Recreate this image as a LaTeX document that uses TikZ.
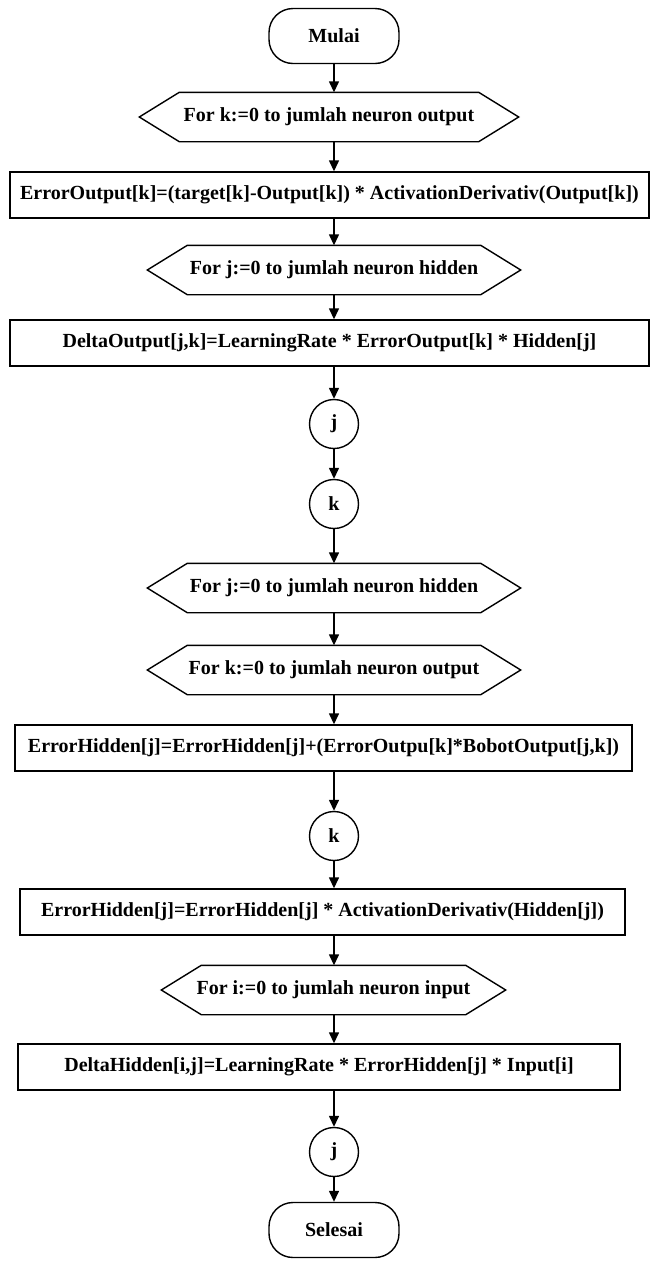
\documentclass[tikz,border=0pt]{standalone}
\usepackage{fontspec}
\setmainfont{Liberation Serif}
\usetikzlibrary{arrows.meta}

\tikzset{
  base/.style={font=\bfseries\fontsize{20}{23}\selectfont, line width=1.4pt, inner sep=0pt},
  terminal/.style={base, draw, rounded corners=24pt, minimum width=130pt, minimum height=55pt},
  procbox/.style={base, draw, minimum height=46pt},
  loophex/.style={base, minimum height=48pt},
  connector/.style={base, draw, circle, minimum size=49pt},
  flow/.style={line width=1.4pt, -{Triangle[length=11pt,width=10pt]}}
}

% hexagonal frame drawn around a loop node
\newcommand\hexframe[1]{%
  \draw[line width=1.4pt] (#1.west) -- ([xshift=40pt]#1.north west)
    -- ([xshift=-40pt]#1.north east) -- (#1.east)
    -- ([xshift=-40pt]#1.south east) -- ([xshift=40pt]#1.south west) -- cycle;}

\begin{document}
\begin{tikzpicture}[x=1pt,y=-1pt]
\useasboundingbox (0,0) rectangle (651,1262);
\coordinate (axis) at (334,0);

\node[terminal] (start) at (334,36) {Mulai};
\node[loophex, minimum width=378pt] (fork1) at (329,117) {For k:=0 to jumlah neuron output};
\node[procbox, minimum width=639pt] (errout) at (329.5,195) {ErrorOutput[k]=(target[k]-Output[k]) * ActivationDerivativ(Output[k])};
\node[loophex, minimum width=372pt] (forj1) at (334,270) {For j:=0 to jumlah neuron hidden};
\node[procbox, minimum width=639pt] (deltaout) at (329.5,343) {DeltaOutput[j,k]=LearningRate * ErrorOutput[k] * Hidden[j]};
\node[connector] (endj1) at (334,424) {j};
\node[connector] (endk1) at (334,504) {k};
\node[loophex, minimum width=372pt] (forj2) at (334,588) {For j:=0 to jumlah neuron hidden};
\node[loophex, minimum width=372pt] (fork2) at (334,670) {For k:=0 to jumlah neuron output};
\node[procbox, minimum width=617pt] (errhid) at (323.5,748) {ErrorHidden[j]=ErrorHidden[j]+(ErrorOutpu[k]*BobotOutput[j,k])};
\node[connector] (endk2) at (334,836) {k};
\node[procbox, minimum width=605pt] (errhidact) at (322.5,912) {ErrorHidden[j]=ErrorHidden[j] * ActivationDerivativ(Hidden[j])};
\node[loophex, minimum width=343pt] (fori) at (333.5,990) {For i:=0 to jumlah neuron input};
\node[procbox, minimum width=602pt] (deltahid) at (319,1067) {DeltaHidden[i,j]=LearningRate * ErrorHidden[j] * Input[i]};
\node[connector] (endj2) at (334,1152) {j};
\node[terminal] (stop) at (334,1230) {Selesai};

\hexframe{fork1}
\hexframe{forj1}
\hexframe{forj2}
\hexframe{fork2}
\hexframe{fori}

\foreach \a/\b in {start/fork1, fork1/errout, errout/forj1, forj1/deltaout,
  deltaout/endj1, endj1/endk1, endk1/forj2, forj2/fork2, fork2/errhid,
  errhid/endk2, endk2/errhidact, errhidact/fori, fori/deltahid,
  deltahid/endj2, endj2/stop}
  \draw[flow] (\a.south -| axis) -- (\b.north -| axis);
\end{tikzpicture}
\end{document}
